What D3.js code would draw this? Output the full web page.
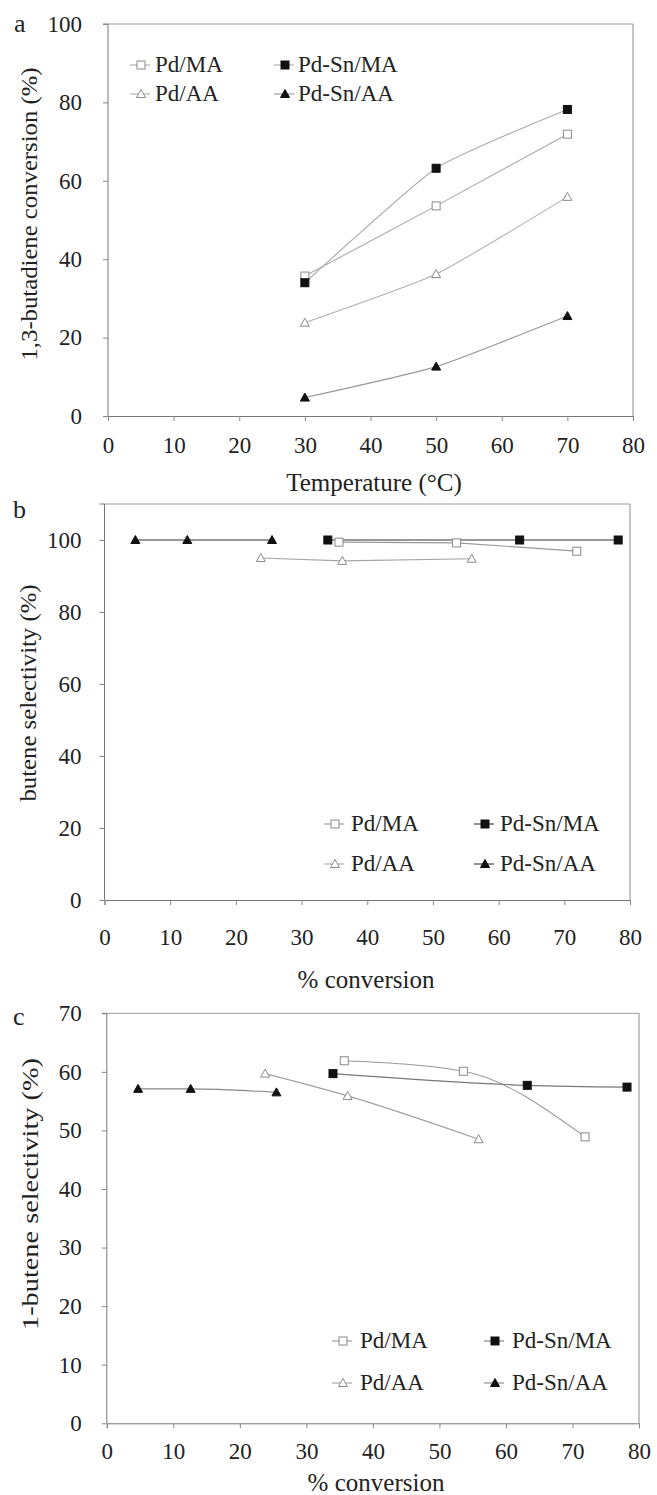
<!DOCTYPE html>
<html>
<head>
<meta charset="utf-8">
<script src="https://cdn.jsdelivr.net/npm/d3@7"></script>
<style>
  html, body { margin: 0; padding: 0; background: #fff; }
  svg { display: block; }
  text { font-family: "Liberation Serif", "Times New Roman", serif; fill: #222; }
</style>
</head>
<body>
<svg id="chart" width="657" height="1495"></svg>
<script>
// ---------------- DATA ----------------
const seriesNames = ["Pd/MA", "Pd-Sn/MA", "Pd/AA", "Pd-Sn/AA"];
const temperature = [30, 50, 70];
// (a) 1,3-butadiene conversion (%)
const convPdMA   = [35.7, 53.6, 71.9];
const convPdSnMA = [34.0, 63.2, 78.2];
const convPdAA   = [23.8, 36.2, 55.9];
const convPdSnAA = [4.7, 12.6, 25.5];
// (b) butene selectivity (%)
const butPdMA   = [99.4, 99.2, 96.9];
const butPdSnMA = [100, 100, 100];
const butPdAA   = [95.0, 94.2, 94.8];
const butPdSnAA = [100, 100, 100];
// (c) 1-butene selectivity (%)
const oneButPdMA   = [61.9, 60.1, 48.9];
const oneButPdSnMA = [59.7, 57.7, 57.4];
const oneButPdAA   = [59.7, 55.9, 48.5];
const oneButPdSnAA = [57.1, 57.1, 56.5];
// tick labels
const xTicks = [0, 10, 20, 30, 40, 50, 60, 70, 80];
const yTicksA = [0, 20, 40, 60, 80, 100];
const yTicksB = [0, 20, 40, 60, 80, 100];
const yTicksC = [0, 10, 20, 30, 40, 50, 60, 70];

// ---------------- STYLE ----------------
const markerStyle = {
  "Pd/MA":    {shape: "square",   filled: false},
  "Pd-Sn/MA": {shape: "square",   filled: true},
  "Pd/AA":    {shape: "triangle", filled: false},
  "Pd-Sn/AA": {shape: "triangle", filled: true}
};

const svg = d3.select("#chart");
svg.append("rect").attr("width", 657).attr("height", 1495).attr("fill", "#fff");

function drawMarker(g, name, x, y) {
  const st = markerStyle[name];
  const fill = st.filled ? "#111" : "#fff";
  const stroke = st.filled ? "#111" : "#8a8a8a";
  if (st.shape === "square") {
    g.append("rect").attr("x", x - 4).attr("y", y - 4).attr("width", 8).attr("height", 8)
      .attr("fill", fill).attr("stroke", stroke).attr("stroke-width", 1);
  } else {
    g.append("path").attr("d", `M${x},${y - 4.5}L${x + 4.5},${y + 3.5}L${x - 4.5},${y + 3.5}Z`)
      .attr("fill", fill).attr("stroke", stroke).attr("stroke-width", 1);
  }
}

function panel(cfg) {
  const g = svg.append("g");
  const x = d3.scaleLinear().domain([0, 80]).range([cfg.left, cfg.right]);
  const y = d3.scaleLinear().domain([0, cfg.ymax]).range([cfg.bottom, cfg.top]);

  // frame (top & right)
  g.append("line").attr("x1", cfg.left).attr("x2", cfg.right).attr("y1", cfg.top).attr("y2", cfg.top)
    .attr("stroke", "#9a9a9a").attr("stroke-width", 1);
  g.append("line").attr("x1", cfg.right).attr("x2", cfg.right).attr("y1", cfg.top).attr("y2", cfg.bottom)
    .attr("stroke", "#8a8a8a").attr("stroke-width", 1);

  // axes
  const xAxis = d3.axisBottom(x).tickValues(xTicks).tickFormat(d3.format("d")).tickSize(5).tickPadding(cfg.xPad);
  const yAxis = d3.axisLeft(y).tickValues(cfg.yTicks).tickFormat(d3.format("d")).tickSize(5).tickPadding(cfg.yPad);
  const gx = g.append("g").attr("transform", `translate(0,${cfg.bottom})`).call(xAxis);
  const gy = g.append("g").attr("transform", `translate(${cfg.left},0)`).call(yAxis);
  [gx, gy].forEach(a => {
    a.select(".domain").attr("stroke", "#777").attr("stroke-width", 1);
    a.selectAll(".tick line").attr("stroke", "#888");
    a.selectAll(".tick text").attr("font-family", '"Liberation Serif", serif')
      .attr("font-size", 23).attr("fill", "#222");
  });
  gy.select(".domain").attr("d", `M${-5},${cfg.top}H0V${cfg.bottom}`);

  // panel letter
  g.append("text").attr("x", cfg.letterX).attr("y", cfg.letterY).attr("font-size", 26).text(cfg.letter);

  // axis titles
  g.append("text").attr("x", cfg.xTitleX).attr("y", cfg.xTitleY).attr("text-anchor", "middle")
    .attr("font-size", 25).text(cfg.xTitle);
  g.append("text")
    .attr("transform", `translate(${cfg.yTitleX},${cfg.yTitleY}) rotate(-90)`)
    .attr("text-anchor", "middle").attr("dominant-baseline", "central")
    .attr("font-size", 24).attr("fill", "#333")
    .attr("textLength", cfg.yTitleLen).attr("lengthAdjust", "spacingAndGlyphs")
    .text(cfg.yTitle);

  // series
  const line = d3.line().x(d => x(d[0])).y(d => y(d[1])).curve(cfg.curve);
  cfg.series.forEach(s => {
    const pts = s.xs.map((xv, i) => [xv, s.ys[i]]);
    g.append("path").datum(pts).attr("d", line).attr("fill", "none")
      .attr("stroke", s.color).attr("stroke-width", s.width || 1.1);
  });
  cfg.series.forEach(s => {
    s.xs.forEach((xv, i) => drawMarker(g, s.name, x(xv), y(s.ys[i])));
  });

  // legend
  const L = cfg.legend;
  seriesNames.forEach((name, i) => {
    const col = i % 2, row = Math.floor(i / 2);
    const mx = L.mx[col], ty = L.ty[row];
    const cy = ty - 7;
    const lc = cfg.series.find(s => s.name === name).color;
    g.append("line").attr("x1", mx - 11).attr("x2", mx + 9).attr("y1", cy).attr("y2", cy)
      .attr("stroke", lc).attr("stroke-width", 1.1);
    drawMarker(g, name, mx, cy);
    g.append("text").attr("x", L.tx[col]).attr("y", ty).attr("font-size", 23).text(name);
  });
}

// Panel a
panel({
  letter: "a", letterX: 14, letterY: 32,
  left: 108, right: 633, top: 24, bottom: 416, ymax: 100, yTicks: yTicksA,
  xPad: 15.5, yPad: 21, curve: d3.curveCardinal.tension(0.5),
  xTitle: "Temperature (°C)", xTitleX: 374, xTitleY: 491,
  yTitle: "1,3-butadiene conversion (%)", yTitleX: 29, yTitleY: 214, yTitleLen: 293,
  series: [
    {name: "Pd/MA",    xs: temperature, ys: convPdMA,   color: "#aaa"},
    {name: "Pd-Sn/MA", xs: temperature, ys: convPdSnMA, color: "#aaa"},
    {name: "Pd/AA",    xs: temperature, ys: convPdAA,   color: "#b0b0b0"},
    {name: "Pd-Sn/AA", xs: temperature, ys: convPdSnAA, color: "#999"}
  ],
  legend: {mx: [141, 285], tx: [155, 298], ty: [72, 101]}
});

// Panel b
panel({
  letter: "b", letterX: 13, letterY: 518,
  left: 104.5, right: 630, top: 504, bottom: 900, ymax: 110, yTicks: yTicksB,
  xPad: 23.5, yPad: 18, curve: d3.curveLinear,
  xTitle: "% conversion", xTitleX: 366, xTitleY: 988,
  yTitle: "butene selectivity (%)", yTitleX: 28, yTitleY: 693, yTitleLen: 217,
  series: [
    {name: "Pd/MA",    xs: convPdMA,   ys: butPdMA,   color: "#999"},
    {name: "Pd-Sn/MA", xs: convPdSnMA, ys: butPdSnMA, color: "#333"},
    {name: "Pd/AA",    xs: convPdAA,   ys: butPdAA,   color: "#a5a5a5"},
    {name: "Pd-Sn/AA", xs: convPdSnAA, ys: butPdSnAA, color: "#333"}
  ],
  legend: {mx: [335, 485], tx: [351, 500], ty: [831, 871]}
});

// Panel c
panel({
  letter: "c", letterX: 13, letterY: 1025,
  left: 106.8, right: 639, top: 1013.3, bottom: 1423.3, ymax: 70, yTicks: yTicksC,
  xPad: 14.5, yPad: 20, curve: d3.curveMonotoneX,
  xTitle: "% conversion", xTitleX: 376, xTitleY: 1491,
  yTitle: "1-butene selectivity (%)", yTitleX: 30, yTitleY: 1194, yTitleLen: 272,
  series: [
    {name: "Pd/MA",    xs: convPdMA,   ys: oneButPdMA,   color: "#999"},
    {name: "Pd-Sn/MA", xs: convPdSnMA, ys: oneButPdSnMA, color: "#777"},
    {name: "Pd/AA",    xs: convPdAA,   ys: oneButPdAA,   color: "#a0a0a0"},
    {name: "Pd-Sn/AA", xs: convPdSnAA, ys: oneButPdSnAA, color: "#888"}
  ],
  legend: {mx: [343, 495], tx: [360, 512], ty: [1348, 1390]}
});
</script>
</body>
</html>
